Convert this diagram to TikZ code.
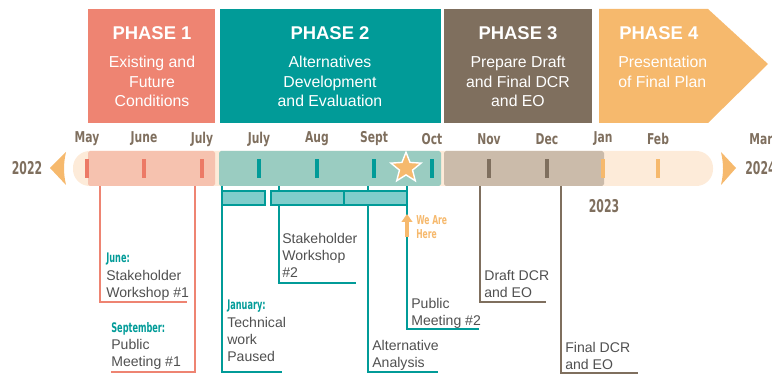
\documentclass[tikz,border=0pt]{standalone}
\usepackage{fontspec}
\setmainfont{Liberation Sans}
\newfontfamily\monthfont[FakeStretch=0.72]{DejaVu Sans}
\newfontfamily\narrowfont[FakeStretch=0.62]{DejaVu Sans}
\usetikzlibrary{arrows.meta, shapes.geometric, positioning}

\definecolor{phaseone}{HTML}{EE8472}
\definecolor{phasetwo}{HTML}{019B98}
\definecolor{phasethree}{HTML}{7F6F5E}
\definecolor{phasefour}{HTML}{F6B96D}
\definecolor{lightone}{HTML}{F6C2AF}
\definecolor{lighttwo}{HTML}{9ACCC1}
\definecolor{lightthree}{HTML}{CBBBAA}
\definecolor{peach}{HTML}{FDEBD9}
\definecolor{tickone}{HTML}{EC7A66}
\definecolor{barteal}{HTML}{80CDCB}
\definecolor{labelgray}{HTML}{505050}

\newcommand{\datelbl}[1]{{\narrowfont\bfseries\fontsize{7.5}{9}\selectfont\color{phasetwo}#1}}

\begin{document}
\begin{tikzpicture}[x=0.02cm, y=-0.02cm, >=Stealth,
  phasetitle/.style={text=white, font=\fontsize{10.5}{12}\selectfont\bfseries},
  phasesub/.style={text=white, font=\fontsize{9}{11}\selectfont, align=center, inner sep=0pt},
  month/.style={text=phasethree, font=\monthfont\bfseries\fontsize{8.5}{10}\selectfont},
  year/.style={text=phasethree, font=\narrowfont\bfseries\fontsize{10}{12}\selectfont},
  eventtext/.style={text=labelgray, font=\fontsize{8}{9.8}\selectfont, align=left,
    inner sep=0pt, anchor=north west},
  oneline/.style={phaseone, line width=0.8pt},
  twoline/.style={phasetwo, line width=0.8pt},
  threeline/.style={phasethree, line width=0.8pt},
  tealbar/.style={fill=barteal, draw=phasetwo, line width=0.7pt}]
  \useasboundingbox (0,0) rectangle (772,375);

  % Phase boxes
  \fill[phaseone] (88,9) rectangle (215,123);
  \fill[phasetwo] (220,9) rectangle (441,123);
  \fill[phasethree] (444,9) rectangle (592,123);
  \fill[phasefour] (599,9) -- (708,9) -- (768,64) -- (708,123) -- (599,123) -- cycle;
  \node[phasetitle] (ponetitle) at (152,33) {PHASE 1};
  \node[phasesub, anchor=north] (ponesub) at (152,56) {Existing and\\Future\\Conditions};
  \node[phasetitle] (ptwotitle) at (330,33) {PHASE 2};
  \node[phasesub, anchor=north] (ptwosub) at (330,56) {Alternatives\\Development\\and Evaluation};
  \node[phasetitle] (pthreetitle) at (518,33) {PHASE 3};
  \node[phasesub, anchor=north] (pthreesub) at (518,56) {Prepare Draft\\and Final DCR\\and EO};
  \node[phasetitle, anchor=west, inner sep=0pt] (pfourtitle) at (619,33) {PHASE 4};
  \node[phasesub, anchor=north west, align=left] (pfoursub) at (618,56) {Presentation\\of Final Plan};

  % Timeline bar
  \fill[peach, rounded corners=9.5pt] (73,151) rectangle (713,186);
  \fill[lightone, rounded corners=1pt] (88,151) rectangle (215,186);
  \fill[lighttwo, rounded corners=1pt] (219,151) rectangle (441,186);
  \fill[lightthree, rounded corners=1pt] (444,151) rectangle (604,186);
  \fill[phasefour] (50,168) -- (66,152) to[bend right=12] (66,185) -- cycle;
  \fill[phasefour] (736,168) -- (721,152) to[bend left=12] (721,185) -- cycle;
  \node[year] (yleft) at (27,168) {2022};
  \node[year, anchor=west, inner sep=0pt] (yright) at (745,168) {2024};
  \node[year] (ymid) at (604,206) {2023};

  % Months and ticks
  \foreach \x/\m/\c in {87/May/tickone, 144/June/tickone, 202/July/tickone,
    259/July/phasetwo, 317/Aug/phasetwo, 374/Sept/phasetwo, 432/Oct/phasetwo,
    489/Nov/phasethree, 547/Dec/phasethree, 603/Jan/phasefour, 658/Feb/phasefour}{
    \node[month] (m\x) at (\x,139) {\m};
    \fill[\c] (\x-2,159) rectangle (\x+2,178);
  }
  \node[month, anchor=west, inner sep=0pt] (mmar) at (749,139) {Mar};

  % Phase 1 events
  \coordinate (junetop) at (100,186);
  \coordinate (juneend) at (187,302);
  \draw[oneline] (junetop) |- (juneend);
  \node[eventtext] (junelbl) at (106,253) {\datelbl{June:}\\Stakeholder\\Workshop \#1};
  \coordinate (septtop) at (195,186);
  \coordinate (septend) at (111,372);
  \draw[oneline] (septtop) |- (septend);
  \node[eventtext] (septlbl) at (111,322) {\datelbl{September:}\\Public\\Meeting \#1};

  % Phase 2 events
  \coordinate (jantop) at (222,186);
  \coordinate (janend) at (282,372);
  \draw[twoline] (jantop) |- (janend);
  \node[eventtext] (janlbl) at (227,300) {\datelbl{January:}\\Technical\\work\\Paused};
  \coordinate (swtop) at (279,186);
  \coordinate (swend) at (356,283);
  \draw[twoline] (swtop) |- (swend);
  \node[eventtext] (swlbl) at (282,233) {Stakeholder\\Workshop\\\#2};
  \coordinate (alttop) at (368,186);
  \coordinate (altend) at (438,372);
  \draw[twoline] (alttop) |- (altend);
  \node[eventtext] (altlbl) at (372,340) {Alternative\\Analysis};
  \coordinate (pmtop) at (407,186);
  \coordinate (pmend) at (479,329);
  \draw[twoline] (pmtop) |- (pmend);
  \node[eventtext] (pmlbl) at (411,298) {Public\\Meeting \#2};

  % Work bars
  \draw[tealbar] (222,191) rectangle (265,205);
  \draw[tealbar] (271,191) rectangle (344,205);
  \draw[tealbar] (344,191) rectangle (407,205);

  % We are here
  \node[star, star points=5, star point ratio=2.3, fill=phasefour, draw=white,
        line width=0.8pt, minimum size=18pt, inner sep=0pt] (here) at (406,168) {};
  \coordinate (heretail) at (407,237);
  \coordinate (herehead) at (407,214);
  \draw[-{Triangle[width=6pt, length=4.5pt]}, phasefour, line width=2.8pt]
    (heretail) -- (herehead);
  \node[font=\narrowfont\bfseries\fontsize{7}{8}\selectfont, text=phasefour, align=left,
        inner sep=0pt, anchor=north west] (herelbl) at (416,215) {We Are\\Here};

  % Phase 3 events
  \coordinate (drafttop) at (480,186);
  \coordinate (draftend) at (546,302);
  \draw[threeline] (drafttop) |- (draftend);
  \node[eventtext] (draftlbl) at (484,270) {Draft DCR\\and EO};
  \coordinate (finaltop) at (561,186);
  \coordinate (finalend) at (638,373);
  \draw[threeline] (finaltop) |- (finalend);
  \node[eventtext] (finallbl) at (565,342) {Final DCR\\and EO};
\end{tikzpicture}
\end{document}
